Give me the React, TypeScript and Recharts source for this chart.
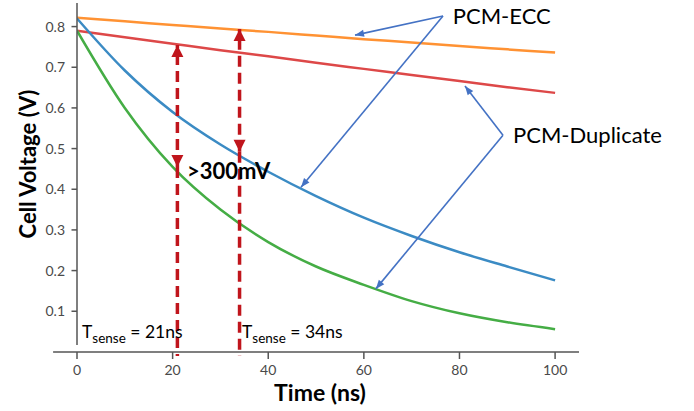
import React from 'react';
import { LineChart, Line, XAxis, YAxis, ReferenceLine, ReferenceDot, Label } from 'recharts';

// ---- data ----
const times = [0, 10, 20, 30, 40, 50, 60, 70, 80, 90, 100];
const eccHigh = [0.822, 0.813, 0.804, 0.795, 0.787, 0.778, 0.769, 0.761, 0.752, 0.744, 0.736]; // orange
const dupHigh = [0.79, 0.774, 0.758, 0.742, 0.727, 0.711, 0.696, 0.681, 0.666, 0.651, 0.637]; // red
const eccLow = [0.82, 0.692, 0.59, 0.51, 0.443, 0.383, 0.33, 0.285, 0.245, 0.21, 0.176]; // blue
const dupLow = [0.79, 0.6, 0.455, 0.35, 0.27, 0.21, 0.165, 0.125, 0.095, 0.073, 0.056]; // green

const xTicks = [0, 20, 40, 60, 80, 100];
const yTicks = [0.1, 0.2, 0.3, 0.4, 0.5, 0.6, 0.7, 0.8];

const senseArrows = [
  { t: 21, low: 0.455, high: 0.755, label: '21ns', textX: 1.05 },
  { t: 34, low: 0.492, high: 0.794, label: '34ns', textX: 34.5 },
];
const senseTextY = 0.034;
const gapLabel = { text: '>300mV', x: 23.0, y: 0.425 };

const callouts = [
  { name: 'PCM-ECC', vertex: [76.55, 0.826], tips: [[58.15, 0.779], [46.85, 0.405]], text: [78.6, 0.806] },
  { name: 'PCM-Duplicate', vertex: [89.1, 0.533], tips: [[81.15, 0.654], [62.5, 0.155]], text: [91.2, 0.514] },
];

const data = times.map((t, i) => ({ t, eccHigh: eccHigh[i], dupHigh: dupHigh[i], eccLow: eccLow[i], dupLow: dupLow[i] }));

const FONT = 'Lato, "Open Sans", sans-serif';
const AXIS = '#555';
const TICKTXT = '#4a4a4a';
const DARKRED = '#c0151c';
const CALLOUT = '#4472c4';

function head(x1: number, y1: number, x2: number, y2: number, len: number, half: number, color: string) {
  const dx = x2 - x1, dy = y2 - y1;
  const d = Math.sqrt(dx * dx + dy * dy) || 1;
  const ux = dx / d, uy = dy / d;
  const bx = x2 - ux * len, by = y2 - uy * len;
  const px = -uy * half, py = ux * half;
  return <polygon points={`${x2},${y2} ${bx + px},${by + py} ${bx - px},${by - py}`} fill={color} />;
}

const calloutShape = (p: any) => {
  const { x1, y1, x2, y2 } = p;
  return (
    <g>
      <line x1={x1} y1={y1} x2={x2} y2={y2} stroke={CALLOUT} strokeWidth={1.6} />
      {head(x1, y1, x2, y2, 9, 3.5, CALLOUT)}
    </g>
  );
};

const doubleArrowShape = (p: any) => {
  const { x1, y1, x2, y2 } = p;
  return (
    <g>
      <line x1={x1} y1={y1} x2={x2} y2={y2} stroke={DARKRED} strokeWidth={3.5} strokeDasharray="11 6" />
      {head(x1, y1, x2, y2, 12, 6, DARKRED)}
      {head(x2, y2, x1, y1, 12, 6, DARKRED)}
    </g>
  );
};

const dashShape = (p: any) => {
  const { x1, y1, x2, y2 } = p;
  return <line x1={x1} y1={y1} x2={x2} y2={y2} stroke={DARKRED} strokeWidth={3.5} strokeDasharray="11 6" />;
};

const XTick = (p: any) => {
  const { x, y, payload } = p;
  return (
    <g>
      <line x1={x} y1={y + 7} x2={x} y2={y + 14} stroke={AXIS} strokeWidth={1.5} />
      <text x={x} y={y + 30} textAnchor="middle" fill={TICKTXT} fontSize={14} fontFamily={FONT}>
        {payload.value}
      </text>
    </g>
  );
};

const yTickShape = (v: number) => (p: any) => (
  <g>
    <line x1={p.cx - 5.5} y1={p.cy} x2={p.cx} y2={p.cy} stroke={AXIS} strokeWidth={1.5} />
    <text x={p.cx - 12} y={p.cy} dy={5} textAnchor="end" fill={TICKTXT} fontSize={14} fontFamily={FONT}>
      {v.toFixed(1)}
    </text>
  </g>
);

const YTitle = (p: any) => {
  const vb = p.viewBox;
  const cx = vb.x + 27;
  const cy = vb.y + vb.height / 2 - 10;
  return (
    <text x={cx} y={cy} transform={`rotate(-90, ${cx}, ${cy})`} textAnchor="middle" dominantBaseline="central"
      fontSize={22} fontWeight="bold" fontFamily={FONT} fill="#000">
      Cell Voltage (V)
    </text>
  );
};

const XTitle = (p: any) => {
  const vb = p.viewBox;
  return (
    <text x={vb.x + 243} y={vb.y + 56} textAnchor="middle" fontSize={23} fontWeight="bold" fontFamily={FONT} fill="#000">
      Time (ns)
    </text>
  );
};

const textShape = (content: React.ReactNode, size: number, bold: boolean) => (p: any) => (
  <text x={p.cx} y={p.cy} fontSize={size} fontWeight={bold ? 'bold' : 'normal'} fontFamily={FONT} fill="#000">
    {content}
  </text>
);

const senseShape = (label: string) => (p: any) => (
  <text x={p.cx} y={p.cy} fontSize={17.5} fontFamily={FONT} fill="#000">
    <tspan>T</tspan>
    <tspan dy={5} fontSize={13.5}>sense</tspan>
    <tspan dy={-5}>{` = ${label}`}</tspan>
  </text>
);

export default function App() {
  return (
    <div style={{ position: 'absolute', left: 0, top: 0, width: 694, height: 411, background: '#fff' }}>
      <LineChart width={694} height={411} data={data} margin={{ top: 3, right: 115, bottom: 0, left: 0 }}>
        <XAxis dataKey="t" type="number" domain={[0, 105]} allowDataOverflow ticks={xTicks}
          axisLine={false} tickLine={false} tickSize={0} tickMargin={0} height={66} tick={<XTick />}>
          <Label content={<XTitle />} />
        </XAxis>
        <YAxis type="number" domain={[0.017, 0.858]} allowDataOverflow ticks={yTicks} width={77}
          axisLine={{ stroke: AXIS, strokeWidth: 1.5 }} tickLine={false} tick={false}>
          <Label content={<YTitle />} />
        </YAxis>
        <ReferenceLine segment={[{ x: -5, y: 0 }, { x: 105, y: 0 }]} ifOverflow="visible" stroke={AXIS} strokeWidth={1.5} />
        {yTicks.map((v) => (
          <ReferenceDot key={`yt${v}`} x={0} y={v} r={0} ifOverflow="visible" shape={yTickShape(v)} />
        ))}

        <Line dataKey="eccHigh" type="monotone" stroke="#ff9233" strokeWidth={2.5} dot={false} isAnimationActive={false} />
        <Line dataKey="dupHigh" type="monotone" stroke="#dd4848" strokeWidth={2.5} dot={false} isAnimationActive={false} />
        <Line dataKey="eccLow" type="monotone" stroke="#3b8bc4" strokeWidth={2.5} dot={false} isAnimationActive={false} />
        <Line dataKey="dupLow" type="monotone" stroke="#45ad45" strokeWidth={2.5} dot={false} isAnimationActive={false} />

        {senseArrows.map((a) => (
          <ReferenceLine key={`d${a.t}`} segment={[{ x: a.t, y: a.low }, { x: a.t, y: -0.01 }]} ifOverflow="visible" shape={dashShape} />
        ))}
        {senseArrows.map((a) => (
          <ReferenceLine key={`a${a.t}`} segment={[{ x: a.t, y: a.low }, { x: a.t, y: a.high }]} ifOverflow="visible" shape={doubleArrowShape} />
        ))}
        {callouts.map((c) =>
          c.tips.map((tp, j) => (
            <ReferenceLine key={`${c.name}${j}`} segment={[{ x: c.vertex[0], y: c.vertex[1] }, { x: tp[0], y: tp[1] }]}
              ifOverflow="visible" shape={calloutShape} />
          ))
        )}
        {callouts.map((c) => (
          <ReferenceDot key={`t${c.name}`} x={c.text[0]} y={c.text[1]} r={0} ifOverflow="visible" shape={textShape(c.name, 22, false)} />
        ))}
        <ReferenceDot x={gapLabel.x} y={gapLabel.y} r={0} ifOverflow="visible" shape={textShape(gapLabel.text, 22, true)} />
        {senseArrows.map((a) => (
          <ReferenceDot key={`s${a.t}`} x={a.textX} y={senseTextY} r={0} ifOverflow="visible" shape={senseShape(a.label)} />
        ))}
      </LineChart>
    </div>
  );
}
